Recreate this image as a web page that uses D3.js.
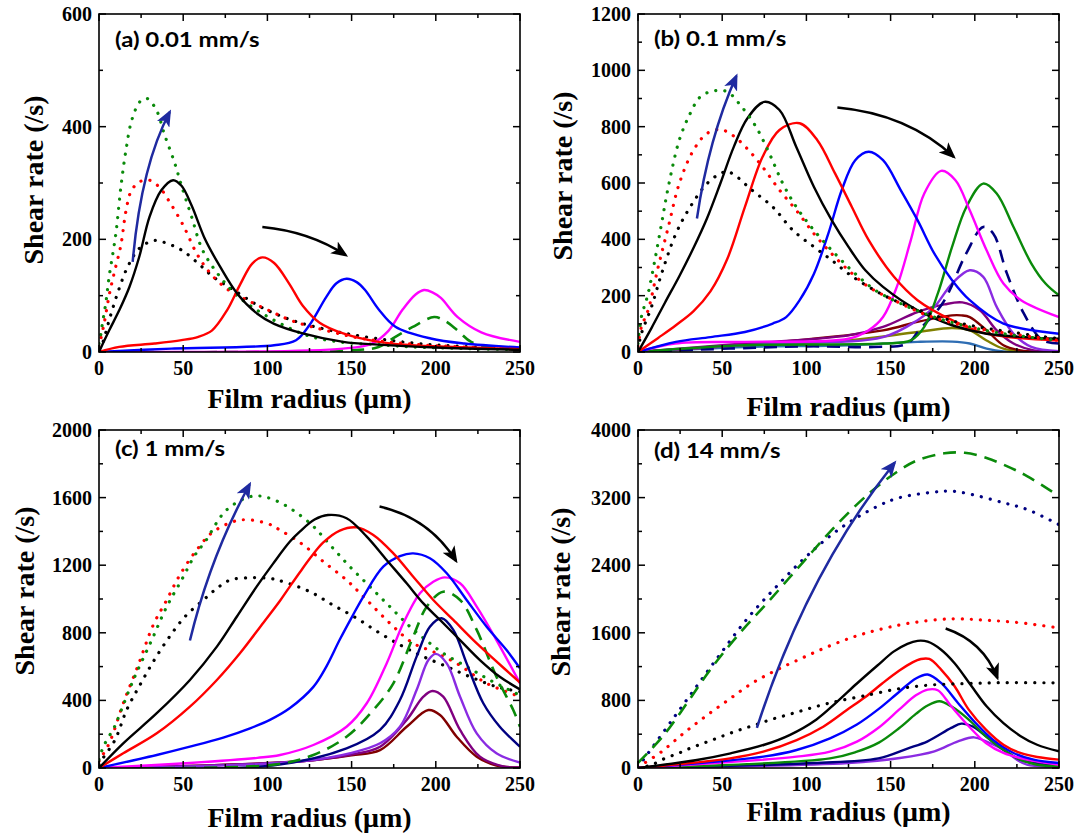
<!DOCTYPE html>
<html>
<head>
<meta charset="utf-8">
<script src="https://cdn.jsdelivr.net/npm/d3@7"></script>
<style>
  html, body { margin: 0; padding: 0; background: #fff; }
  svg { display: block; }
</style>
</head>
<body>
<svg id="chart" width="1078" height="836"></svg>
<script>
// ---------------- DATA ----------------
const xTicks = [0, 50, 100, 150, 200, 250];
const yTicksA = [0, 200, 400, 600];
const yTicksB = [0, 200, 400, 600, 800, 1000, 1200];
const yTicksC = [0, 400, 800, 1200, 1600, 2000];
const yTicksD = [0, 800, 1600, 2400, 3200, 4000];
const panelTitles = ["(a) 0.01 mm/s", "(b) 0.1 mm/s", "(c) 1 mm/s", "(d) 14 mm/s"];
const xLabel = "Film radius (\u03bcm)";
const yLabel = "Shear rate (/s)";

// Panel (a) 0.01 mm/s  — [radius, shear rate]
const a_dotGreen = [[0,15],[1,30],[2,50],[4,86],[6,133],[10,210],[13,293],[16,358],[19.5,412],[24.5,445],[28.5,450],[34,430],[39,385],[45,335],[49,295],[55,240],[61.5,181],[72,133],[82,100],[94,74],[108,50],[125,28],[145,17],[166,13],[186,9],[220,6],[250,4]];
const a_dotRed = [[0,10],[3,50],[6,100],[9,140],[13,190],[16,250],[19,285],[24,302],[30,305],[36,292],[42,266],[50,225],[58,175],[66,140],[76,112],[86,95],[100,75],[115,55],[135,38],[156,24],[186,14],[215,9],[250,5]];
const a_dotBlack = [[0,5],[2,15],[6,56],[11,104],[17,151],[24,184],[33,198],[41,192],[49,181],[59,157],[68,133],[80,110],[96,80],[115,56],[135,40],[156,28],[186,16],[215,10],[250,5]];
const a_solBlack = [[0,0],[6,38],[12,74],[18,115],[24,170],[30,240],[37,287],[44,305],[49,295],[55,260],[63,200],[72,151],[82,104],[94,68],[104,50],[121,33],[145,18],[166,13],[200,8],[250,4]];
const a_solRed = [[0,0],[12,9],[33,15],[49,21],[59,27],[67,38],[76,74],[84,121],[91,157],[97,168],[104,158],[113,121],[121,82],[131,52],[145,33],[166,18],[186,12],[220,8],[250,5]];
const a_solBlue = [[0,0],[43,6],[104,12],[117,21],[125,48],[135,98],[141,122],[147,130],[153,124],[158,110],[166,76],[176,45],[197,24],[217,15],[250,8]];
const a_solMagenta = [[0,0],[145,6],[162,15],[172,38],[180,74],[188,102],[193,110],[198,106],[203,96],[213,62],[227,35],[250,18]];
const a_dashGreen = [[0,0],[150,3],[166,9],[176,27],[186,44],[199,62],[205,56],[213,38],[221,18],[235,8],[250,4]];

// Panel (b) 0.1 mm/s
const b_dotGreen = [[0,30],[2,124],[6,207],[10,326],[14,456],[18,586],[24.5,752],[31,847],[37,906],[45,927],[53,924],[61.5,871],[70,800],[78,705],[86,598],[94,515],[104.5,432],[117,349],[129,278],[141,219],[156,172],[176,124],[197,89],[217,65],[250,41]];
const b_dotRed = [[0,20],[2,89],[6,148],[12,302],[18,444],[24.5,598],[33,717],[41,776],[49,790],[57,766],[65.6,717],[74,657],[84,575],[94,503],[104.5,420],[115,349],[125,290],[137,231],[152,184],[172,130],[197,89],[250,41]];
const b_dotBlack = [[0,10],[2,65],[8,160],[14,278],[22.5,420],[31,515],[41,598],[49,634],[53,640],[57,630],[67.6,575],[80,515],[92,432],[104.5,373],[115,326],[125,278],[137,231],[152,184],[176,130],[197,95],[250,47]];
const b_solBlack = [[0,0],[8,85],[16,175],[24.6,270],[33,370],[41,475],[49,600],[57,730],[65,830],[75,888],[84,859],[94,728],[104.5,586],[115,468],[125,373],[135,290],[145.5,231],[166,148],[186.5,95],[207,65],[250,47]];
const b_solRed = [[0,0],[12,50],[22.5,95],[33,145],[43,215],[53,330],[63.5,515],[74,693],[84,788],[96,812],[106.5,752],[117,634],[127,515],[137,397],[152,267],[166,184],[186.5,113],[207,65],[250,41]];
const b_solBlue = [[0,0],[22.5,36],[43,53],[63.5,71],[80,101],[88,124],[96,184],[104.5,278],[113,420],[121,575],[129,681],[137,711],[145.5,681],[156,575],[166,468],[176,349],[186.5,255],[197,184],[217,101],[250,65]];
const b_solMagenta = [[0,0],[22,30],[63.5,36],[125,47],[137,77],[145.5,124],[153.7,231],[162,397],[170,563],[180,643],[188.5,610],[197,503],[207,361],[217,243],[227.5,184],[250,124]];
const b_solGreen = [[0,0],[63,24],[145.5,30],[162,41],[170,89],[178,207],[186.5,373],[195,515],[205,598],[213,563],[223,444],[233.6,314],[242,243],[250,201]];
const b_dashNavy = [[0,0],[100,20],[140,18],[160,30],[167,78],[181,174],[195,351],[205,444],[211,420],[219,280],[229,138],[240,43],[250,30]];
const b_solViolet = [[0,0],[80,30],[145.5,53],[166,113],[176,160],[186.5,243],[197,290],[205,267],[213,160],[223,65],[233.6,18],[250,3]];
const b_solPurple = [[0,0],[63,30],[125,59],[145.5,89],[166,142],[182,169],[192.6,176],[203,148],[213,77],[223,30],[235,6],[250,2]];
const b_solMaroon = [[0,0],[84,36],[145.5,77],[166,107],[186.5,130],[192,130],[197,124],[207,77],[217,24],[227,6],[250,1]];
const b_solOlive = [[0,0],[63,24],[125,41],[166,71],[186.5,85],[197,77],[207,41],[217,12],[230,3],[250,1]];
const b_solSteel = [[0,0],[63,18],[125,24],[166,36],[186.5,37],[197,30],[207,12],[217,2],[250,0]];

// Panel (c) 1 mm/s
const c_dotGreen = [[0,50],[2.6,126],[9.5,250],[12.5,324],[20.4,521],[31.3,757],[40.2,954],[49,1112],[57,1260],[63,1339],[75.8,1527],[91.6,1609],[106,1578],[125.3,1448],[137.2,1320],[149,1191],[160.9,1073],[172.8,954],[184.7,836],[196.5,738],[204.4,679],[218.3,600],[232,521],[250,430]];
const c_dotRed = [[0,40],[1.6,67],[6.5,156],[14.4,383],[23.3,609],[32.2,846],[40.2,994],[48,1142],[58,1290],[67.9,1398],[83.7,1467],[99.6,1448],[107.5,1408],[121.3,1320],[133.2,1221],[147,1112],[159,994],[172.8,856],[186.6,738],[198.5,688],[212.4,619],[230.2,501],[250,422]];
const c_dotBlack = [[0,20],[1.6,47],[9.5,166],[16.4,343],[24.3,491],[32.2,629],[41.2,767],[51,895],[62,994],[70,1063],[77.8,1112],[89.7,1126],[101.5,1122],[109.5,1102],[125.3,1043],[139,964],[153,886],[166.9,797],[180.7,718],[192.6,659],[206.5,600],[220.3,540],[236,481],[250,452]];
const c_solBlack = [[0,0],[14.4,146],[34.3,324],[54,521],[70,718],[81.8,895],[93.6,1073],[103.5,1211],[113.4,1340],[119.4,1400],[128,1470],[136,1497],[147,1478],[159,1369],[170.8,1231],[182.7,1093],[192.6,974],[202.5,876],[214.4,757],[226.2,639],[238,540],[250,465]];
const c_solRed = [[0,0],[14.4,87],[34.3,205],[54,363],[70,521],[83.7,679],[97.6,860],[107.5,990],[113.4,1075],[119.4,1160],[126,1250],[133.2,1335],[143,1405],[153,1424],[162.9,1379],[174.8,1270],[186.6,1132],[198.5,994],[210.4,876],[222.3,757],[234,649],[250,505]];
const c_solBlue = [[0,0],[34.3,77],[54,126],[73.8,180],[89.7,235],[101.5,285],[113.4,355],[127.3,480],[135,600],[143,760],[150,890],[157,1014],[168.8,1191],[178.7,1254],[186.6,1270],[196.5,1241],[206.5,1152],[218.3,994],[230.2,836],[242,698],[250,590]];
const c_solMagenta = [[0,0],[54,30],[94,60],[107.5,77],[127.3,136],[147,244],[159,383],[170.8,619],[180.7,856],[190.6,1034],[198.5,1102],[205.4,1128],[214.4,1093],[224.3,955],[236,757],[250,501]];
const c_dashGreen = [[0,0],[104,20],[127.3,77],[147,185],[162.9,343],[174.8,501],[186.6,777],[194.6,954],[204.4,1043],[214.4,994],[224.3,817],[236,540],[246,343],[250,244]];
const c_solNavy = [[0,0],[104,16],[147,116],[166.9,225],[178.7,402],[188.6,659],[196.5,836],[203.5,886],[210.4,817],[218.3,619],[228.2,383],[238,244],[250,126]];
const c_solViolet = [[0,0],[120,40],[150,90],[166.9,146],[178.7,244],[188.6,462],[195.6,639],[200,675],[206.5,619],[214.4,422],[224.3,205],[236,87],[250,32]];
const c_solPurple = [[0,0],[120,40],[150,80],[166.9,126],[182.7,284],[192.6,422],[198,456],[204.4,422],[214.4,225],[226.2,67],[240,10],[250,3]];
const c_solMaroon = [[0,0],[120,40],[150,75],[166.9,106],[182.7,244],[195.6,343],[202.5,314],[212.4,185],[224.3,67],[236,15],[250,3]];

// Panel (d) 14 mm/s
const d_dashGreen = [[0,60],[15,380],[29,765],[42.8,1160],[58.6,1554],[78.4,1990],[98.2,2440],[118,2880],[137.8,3260],[153.5,3500],[165.7,3640],[182,3725],[194,3730],[206.6,3672],[219,3573],[231,3455],[250,3218]];
const d_dotNavy = [[0,10],[6,174],[21,588],[35.8,994],[50.6,1396],[65.5,1782],[82.3,2149],[100,2504],[120,2835],[142.5,3100],[155.5,3200],[176,3266],[186,3277],[198,3238],[217,3139],[231,3060],[250,2880]];
const d_dotRed = [[0,10],[14,193],[27,410],[39.8,607],[53.6,805],[67.5,1000],[81.3,1150],[96.2,1290],[112,1430],[127.8,1550],[141.7,1630],[160,1710],[186,1765],[206.6,1749],[227,1718],[250,1658]];
const d_dotBlack = [[0,0],[8,36],[16,114],[24,174],[30.9,233],[38.8,292],[46.7,351],[54.6,410],[62.5,465],[70.5,515],[78.4,570],[86.3,615],[94.2,660],[102,706],[110,750],[119,793],[133.8,852],[155.5,940],[176,985],[196.4,1000],[217,1010],[250,1007]];
const d_solBlack = [[0,0],[35,95],[55,174],[75,275],[90,390],[106,575],[118,780],[130,1000],[142,1210],[152,1380],[160,1470],[166,1505],[172,1495],[180,1400],[188,1240],[198,970],[207,730],[217,530],[227,380],[237,275],[250,197]];
const d_solRed = [[0,0],[54.6,114],[74.4,193],[94.2,331],[110,489],[124,686],[135,840],[145,1000],[155,1150],[163,1250],[168,1290],[173,1290],[180,1165],[188,967],[196.4,691],[206.6,454],[217,276],[227,178],[237,130],[250,99]];
const d_solBlue = [[0,0],[74.4,134],[94.2,213],[114,351],[130,515],[143,700],[155,900],[165,1060],[172,1106],[180,1007],[190,770],[200.5,533],[210.7,336],[223,178],[235,99],[250,59]];
const d_solMagenta = [[0,0],[94.2,134],[114,193],[130,312],[143,480],[155,690],[165,860],[172,928],[178,920],[186,730],[196.4,494],[206.6,296],[217,178],[231,99],[250,39]];
const d_solGreen = [[0,0],[114,114],[130,193],[143,300],[155,470],[165,640],[172,740],[179,790],[186,730],[196.4,573],[206.6,375],[217,217],[227,99],[237,39],[250,20]];
const d_solNavy = [[0,0],[104,59],[142.7,114],[160,230],[172,316],[186,474],[192,525],[198.5,494],[206.6,375],[217,217],[227,99],[250,20]];
const d_solViolet = [[0,0],[124.8,59],[155.5,118],[176,197],[190,316],[199.5,363],[206.6,316],[217,217],[225,99],[231,39],[250,10]];

// Arrows: [start, control, end] in data coordinates
const arrowsA = [[[20,160],[25,330],[42,426]], [[97,222],[125,214],[146.5,172]]];
const arrowsB = [[[35,474],[42,760],[58.4,980]], [[118.4,868],[160,845],[187.5,693]]];
const arrowsC = [[[54,754],[66,1250],[89.5,1679]], [[166.6,1547],[196,1480],[212,1226]]];
const arrowsD = [[[70.6,474],[100,2300],[152.4,3613]], [[182.7,1651],[205,1500],[213.4,1066]]];

// ---------------- STYLES ----------------
const COL = {
  black: "#000000", red: "#ff0000", blue: "#0000ff", magenta: "#ff00ff",
  green: "#0a8a0a", navy: "#000080", violet: "#8a2be2", purple: "#800080",
  maroon: "#800000", olive: "#808000", steel: "#2e6db3", arrowBlue: "#1f2aa0"
};

const panels = [
  { left: 99, right: 520, top: 14, bottom: 352, ymax: 600, yTicks: yTicksA, minorY: 100,
    series: [
      [a_dotBlack, COL.black, "dot"], [a_dotRed, COL.red, "dot"], [a_dotGreen, COL.green, "dot"],
      [a_dashGreen, COL.green, "dash"], [a_solMagenta, COL.magenta, "solid"], [a_solBlue, COL.blue, "solid"],
      [a_solRed, COL.red, "solid"], [a_solBlack, COL.black, "solid"]
    ], arrows: arrowsA,
    yLabelX: 43, yLabelY: 180, xLabelY: 408, titleY: 47 },
  { left: 638, right: 1059, top: 14, bottom: 352, ymax: 1200, yTicks: yTicksB, minorY: 100,
    series: [
      [b_solSteel, COL.steel, "solid"], [b_solOlive, COL.olive, "solid"], [b_solMaroon, COL.maroon, "solid"],
      [b_solPurple, COL.purple, "solid"], [b_solViolet, COL.violet, "solid"], [b_dashNavy, COL.navy, "dash"],
      [b_solGreen, COL.green, "solid"], [b_solMagenta, COL.magenta, "solid"], [b_solBlue, COL.blue, "solid"],
      [b_solRed, COL.red, "solid"], [b_solBlack, COL.black, "solid"],
      [b_dotBlack, COL.black, "dot"], [b_dotRed, COL.red, "dot"], [b_dotGreen, COL.green, "dot"]
    ], arrows: arrowsB,
    yLabelX: 572, yLabelY: 176, xLabelY: 416, titleY: 46 },
  { left: 99, right: 520, top: 430, bottom: 768, ymax: 2000, yTicks: yTicksC, minorY: 200,
    series: [
      [c_dotBlack, COL.black, "dot"], [c_dotRed, COL.red, "dot"], [c_dotGreen, COL.green, "dot"],
      [c_solMaroon, COL.maroon, "solid"], [c_solPurple, COL.purple, "solid"], [c_solViolet, COL.violet, "solid"],
      [c_solNavy, COL.navy, "solid"], [c_dashGreen, COL.green, "dash"], [c_solMagenta, COL.magenta, "solid"],
      [c_solBlue, COL.blue, "solid"], [c_solRed, COL.red, "solid"], [c_solBlack, COL.black, "solid"]
    ], arrows: arrowsC,
    yLabelX: 34, yLabelY: 591, xLabelY: 827, titleY: 456 },
  { left: 638, right: 1059, top: 430, bottom: 768, ymax: 4000, yTicks: yTicksD, minorY: 400,
    series: [
      [d_solViolet, COL.violet, "solid"], [d_solNavy, COL.navy, "solid"], [d_solGreen, COL.green, "solid"],
      [d_solMagenta, COL.magenta, "solid"], [d_solBlue, COL.blue, "solid"], [d_solRed, COL.red, "solid"],
      [d_solBlack, COL.black, "solid"], [d_dotBlack, COL.black, "dot"], [d_dotRed, COL.red, "dot"],
      [d_dotNavy, COL.navy, "dot"], [d_dashGreen, COL.green, "dash"]
    ], arrows: arrowsD,
    yLabelX: 570, yLabelY: 592, xLabelY: 821, titleY: 458 }
];

const svg = d3.select("#chart");
svg.append("rect").attr("width", 1078).attr("height", 836).attr("fill", "#fff");

const defs = svg.append("defs");
function marker(id, color) {
  defs.append("marker").attr("id", id)
    .attr("viewBox", "0 0 12 10").attr("refX", 10).attr("refY", 5)
    .attr("markerUnits", "userSpaceOnUse").attr("markerWidth", 17).attr("markerHeight", 14)
    .attr("orient", "auto")
    .append("path").attr("d", "M0,0 L12,5 L0,10 L3,5 Z").attr("fill", color);
}
marker("headBlue", COL.arrowBlue);
marker("headBlack", COL.black);

const serif = "'Liberation Serif', 'Times New Roman', serif";
const sans = "Lato, 'Open Sans', sans-serif";

panels.forEach((p, i) => {
  const x = d3.scaleLinear().domain([0, 250]).range([p.left, p.right]);
  const y = d3.scaleLinear().domain([0, p.ymax]).range([p.bottom, p.top]);
  const g = svg.append("g");

  const clipId = "clip" + i;
  defs.append("clipPath").attr("id", clipId).append("rect")
    .attr("x", p.left).attr("y", p.top).attr("width", p.right - p.left).attr("height", p.bottom - p.top);

  const line = d3.line().x(d => x(d[0])).y(d => y(d[1])).curve(d3.curveCatmullRom.alpha(0.5));
  const lg = g.append("g").attr("clip-path", `url(#${clipId})`);
  p.series.forEach(([data, color, style]) => {
    const path = lg.append("path").datum(data).attr("d", line)
      .attr("fill", "none").attr("stroke", color);
    if (style === "dot") {
      path.attr("stroke-width", 3.2).attr("stroke-dasharray", "0.1 9").attr("stroke-linecap", "round");
    } else if (style === "dash") {
      path.attr("stroke-width", 2.6).attr("stroke-dasharray", "13 8");
    } else {
      path.attr("stroke-width", 2.4).attr("stroke-linejoin", "round");
    }
  });

  // arrows
  p.arrows.forEach((a, k) => {
    const [s, c, e] = a;
    const pth = d3.path();
    pth.moveTo(x(s[0]), y(s[1]));
    pth.quadraticCurveTo(x(c[0]), y(c[1]), x(e[0]), y(e[1]));
    g.append("path").attr("d", pth.toString()).attr("fill", "none")
      .attr("stroke", k === 0 ? COL.arrowBlue : COL.black).attr("stroke-width", 2.5)
      .attr("marker-end", k === 0 ? "url(#headBlue)" : "url(#headBlack)");
  });

  // frame
  g.append("rect").attr("x", p.left).attr("y", p.top)
    .attr("width", p.right - p.left).attr("height", p.bottom - p.top)
    .attr("fill", "none").attr("stroke", "#000").attr("stroke-width", 1.6);

  // ticks (inward on all sides)
  const minorX = d3.range(25, 250, 50);
  const minorYv = d3.range(p.minorY, p.ymax, p.minorY * 2);
  const tg = g.append("g").attr("stroke", "#000").attr("stroke-width", 1.5);
  xTicks.forEach(v => {
    tg.append("line").attr("x1", x(v)).attr("x2", x(v)).attr("y1", p.bottom).attr("y2", p.bottom - 7);
    tg.append("line").attr("x1", x(v)).attr("x2", x(v)).attr("y1", p.top).attr("y2", p.top + 7);
  });
  minorX.forEach(v => {
    tg.append("line").attr("x1", x(v)).attr("x2", x(v)).attr("y1", p.bottom).attr("y2", p.bottom - 4);
    tg.append("line").attr("x1", x(v)).attr("x2", x(v)).attr("y1", p.top).attr("y2", p.top + 4);
  });
  p.yTicks.forEach(v => {
    tg.append("line").attr("x1", p.left).attr("x2", p.left + 7).attr("y1", y(v)).attr("y2", y(v));
    tg.append("line").attr("x1", p.right).attr("x2", p.right - 7).attr("y1", y(v)).attr("y2", y(v));
  });
  minorYv.forEach(v => {
    tg.append("line").attr("x1", p.left).attr("x2", p.left + 4).attr("y1", y(v)).attr("y2", y(v));
    tg.append("line").attr("x1", p.right).attr("x2", p.right - 4).attr("y1", y(v)).attr("y2", y(v));
  });

  // tick labels
  xTicks.forEach(v => {
    g.append("text").attr("x", x(v)).attr("y", p.bottom + 23).attr("text-anchor", "middle")
      .attr("font-family", serif).attr("font-weight", "bold").attr("font-size", 20).text(v);
  });
  p.yTicks.forEach(v => {
    g.append("text").attr("x", p.left - 7).attr("y", y(v) + 7).attr("text-anchor", "end")
      .attr("font-family", serif).attr("font-weight", "bold").attr("font-size", 20).text(v);
  });

  // axis titles
  g.append("text").attr("x", (p.left + p.right) / 2).attr("y", p.xLabelY).attr("text-anchor", "middle")
    .attr("font-family", serif).attr("font-weight", "bold").attr("font-size", 28).text(xLabel);
  g.append("text").attr("transform", `translate(${p.yLabelX},${p.yLabelY}) rotate(-90)`)
    .attr("text-anchor", "middle")
    .attr("font-family", serif).attr("font-weight", "bold").attr("font-size", 28).text(yLabel);

  // panel title (Calibri-like bold sans, stretched horizontally)
  g.append("text")
    .attr("transform", `translate(${p.left + 16},${p.titleY}) scale(1.2,1)`)
    .attr("font-family", sans).attr("font-weight", "bold").attr("font-size", 20).text(panelTitles[i]);
});
</script>
</body>
</html>
